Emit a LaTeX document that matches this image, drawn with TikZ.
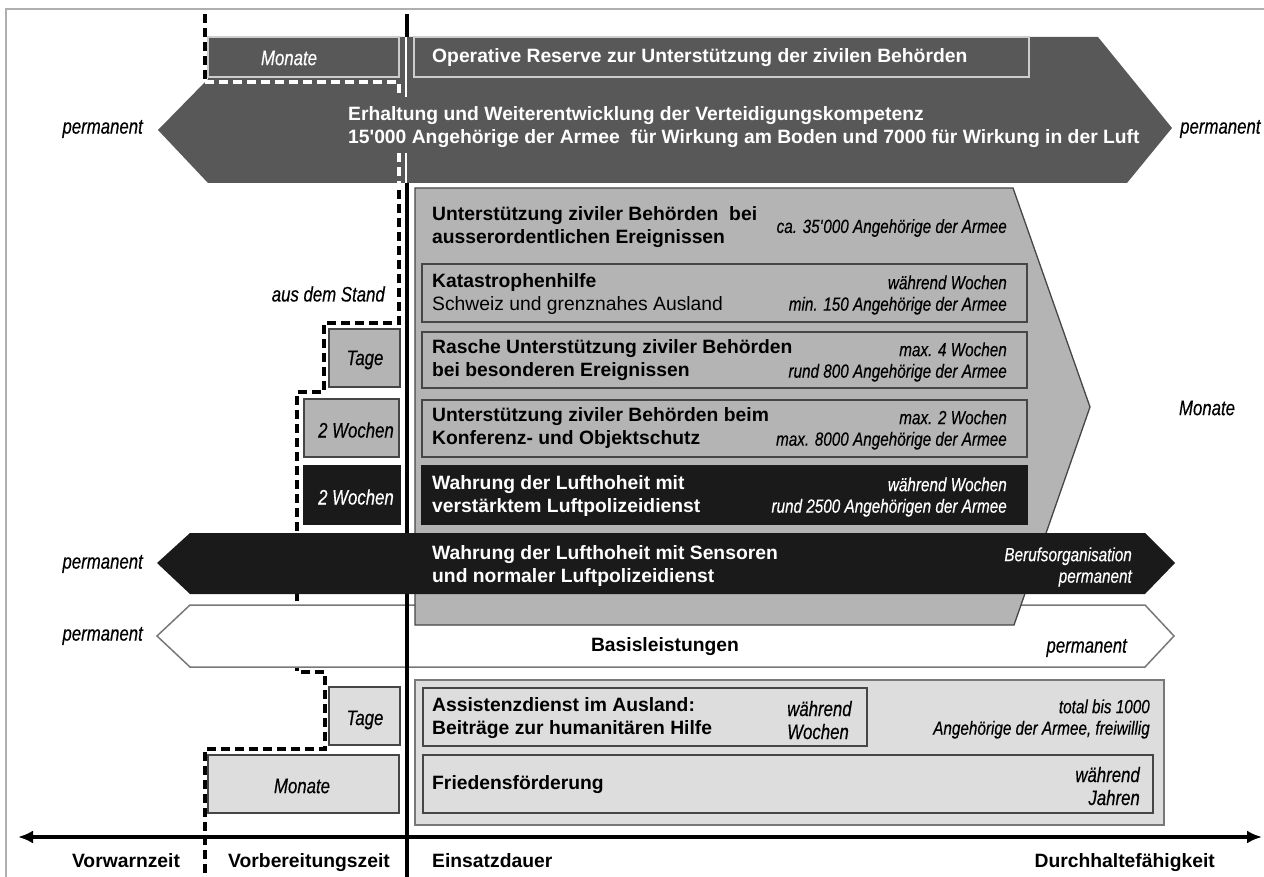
\documentclass[tikz,border=0pt]{standalone}
\usepackage{fontspec}
\setmainfont{Liberation Sans}
\newfontfamily\narrowfont{Liberation Sans}[FakeStretch=0.8, FakeBold=0.35]
\usetikzlibrary{arrows.meta}
\definecolor{darkarrow}{RGB}{88,88,88}
\definecolor{midgrey}{RGB}{180,180,180}
\definecolor{lightgrey}{RGB}{221,221,221}
\definecolor{nearblack}{RGB}{26,26,26}
\definecolor{edgegrey}{RGB}{70,70,70}
\definecolor{softedge}{RGB}{120,120,120}
\definecolor{framegrey}{RGB}{175,175,175}
\definecolor{paleedge}{RGB}{205,205,205}

\begin{document}
\begin{tikzpicture}[x=1pt, y=-1pt,
  txt/.style={inner sep=0pt, font=\fontsize{19.3}{23.5}\selectfont},
  boldtxt/.style={inner sep=0pt, font=\fontsize{19.3}{23.5}\selectfont\bfseries},
  infotxt/.style={inner sep=0pt, font=\narrowfont\itshape\fontsize{19.1}{21.5}\selectfont},
  labeltxt/.style={inner sep=0pt, font=\narrowfont\itshape\fontsize{21}{23}\selectfont},
  greybox/.style={fill=midgrey, draw=edgegrey, line width=1.5pt},
  lightbox/.style={fill=lightgrey, draw=edgegrey, line width=1.5pt},
  blackbox/.style={fill=nearblack, draw=nearblack, line width=1.5pt},
  topbox/.style={fill=darkarrow, draw=paleedge, line width=1.8pt},
  mainline/.style={line width=3.2pt},
  prepline/.style={line width=3.4pt, dash pattern=on 9pt off 5pt},
  axistip/.style={line width=3.6pt, {Latex[length=15pt,width=13pt]}-{Latex[length=15pt,width=13pt]}},
]
\useasboundingbox (0,0) rectangle (1264,877);

% frame
\draw[framegrey, line width=1.3pt] (6,877) -- (6,9) -- (1264,9);

% defence competence arrow
\fill[darkarrow] (208,37) -- (1098,37) -- (1172,128) -- (1127,183) -- (208,183)
  -- (158,130) -- (208,79) -- cycle;
\draw[topbox] (208,37) rectangle (399,77);
\draw[topbox] (414,37) rectangle (1029,77);
\draw[prepline] (205,14) -- (205,80);
\draw[prepline, white] (205,82) -- (399,82) -- (399,97);
\draw[prepline, white] (399,153) -- (399,183);
\draw[white, line width=2.4pt] (406,37) -- (406,97) (406,153) -- (406,183);
\draw[mainline] (407,14) -- (407,37);

% preparation time
\draw[prepline] (399,190) -- (399,323) -- (324,323) -- (324,392) -- (297,392)
  -- (297,672) -- (325,672) -- (325,749) -- (205,749) -- (205,877);

% basic services arrow
\draw[fill=white, draw=softedge, line width=1.5pt] (190,605) -- (1145,605) -- (1174,636)
  -- (1145,667) -- (190,667) -- (157,636) -- cycle;
\draw[mainline] (407,183) -- (407,877);

% support arrow
\draw[greybox, line width=1.3pt] (415,188) -- (1013,188) -- (1090,407) -- (1014,625)
  -- (415,625) -- cycle;
\draw[greybox] (422,264) rectangle (1027,322);
\draw[greybox] (422,332) rectangle (1027,388);
\draw[greybox] (422,400) rectangle (1027,457);
\draw[blackbox] (422,466) rectangle (1027,524);

% air sovereignty arrow
\fill[nearblack] (190,533) -- (1145,533) -- (1175,563) -- (1145,594) -- (190,594)
  -- (157,563) -- cycle;

% readiness boxes
\draw[greybox] (329,329) rectangle (400,387);
\draw[greybox] (304,399) rectangle (399,457);
\draw[blackbox] (304,466) rectangle (400,524);
\draw[lightbox] (329,687) rectangle (400,745);
\draw[lightbox] (208,755) rectangle (399,813);

% abroad
\draw[lightbox, draw=softedge] (415,680) rectangle (1164,825);
\draw[lightbox] (423,688) rectangle (867,746);
\draw[lightbox] (423,755) rectangle (1153,813);

% time axis
\coordinate (west end) at (18,837);
\coordinate (east end) at (1262,837);
\draw[axistip] (west end) -- (east end);

% texts
\node[labeltxt, white] (mon top) at (289,58) {Monate};
\node[boldtxt, white, anchor=west] (reserve) at (432,58)
  {Operative Reserve zur Unterstützung der zivilen Behörden};
\node[boldtxt, white, anchor=west, align=left] (defence) at (348,127)
  {Erhaltung und Weiterentwicklung der Verteidigungskompetenz\\
   15\textquotesingle 000 Angehörige der Armee\ \ für Wirkung am Boden und 7000 für Wirkung in der Luft};
\node[labeltxt, anchor=east] (perm a) at (143,129) {permanent};
\node[labeltxt, anchor=west] (perm b) at (1180,129) {permanent};

\node[boldtxt, anchor=west, align=left] (extra) at (432,227)
  {Unterstützung ziviler Behörden\ \ bei\\ausserordentlichen Ereignissen};
\node[infotxt, anchor=east] (extra n) at (1007,228)
  {ca. 35\textquotesingle 000 Angehörige der Armee};
\node[txt, anchor=west, align=left] (disaster) at (432,294)
  {\textbf{Katastrophenhilfe}\\Schweiz und grenznahes Ausland};
\node[infotxt, anchor=east, align=right] (disaster n) at (1007,295)
  {während Wochen\\min. 150 Angehörige der Armee};
\node[boldtxt, anchor=west, align=left] (rapid) at (432,360)
  {Rasche Unterstützung ziviler Behörden\\bei besonderen Ereignissen};
\node[infotxt, anchor=east, align=right] (rapid n) at (1007,362)
  {max. 4 Wochen\\rund 800 Angehörige der Armee};
\node[boldtxt, anchor=west, align=left] (wef) at (432,428)
  {Unterstützung ziviler Behörden beim\\Konferenz- und Objektschutz};
\node[infotxt, anchor=east, align=right] (wef n) at (1007,430)
  {max. 2 Wochen\\max. 8000 Angehörige der Armee};
\node[boldtxt, white, anchor=west, align=left] (airpol) at (432,496)
  {Wahrung der Lufthoheit mit\\verstärktem Luftpolizeidienst};
\node[infotxt, white, anchor=east, align=right] (airpol n) at (1007,497)
  {während Wochen\\rund 2500 Angehörigen der Armee};
\node[labeltxt] (mon right) at (1207,408) {Monate};

\node[labeltxt, anchor=east] (stand) at (385,294) {aus dem Stand};
\node[labeltxt] (days a) at (365,360) {Tage};
\node[labeltxt] (weeks a) at (356,430) {2 Wochen};
\node[labeltxt, white] (weeks b) at (356,497) {2 Wochen};

\node[boldtxt, white, anchor=west, align=left] (sensors) at (432,566)
  {Wahrung der Lufthoheit mit Sensoren\\und normaler Luftpolizeidienst};
\node[infotxt, white, anchor=east, align=right] (sensors n) at (1132,567)
  {Berufsorganisation\\permanent};
\node[labeltxt, anchor=east] (perm c) at (143,564) {permanent};
\node[labeltxt, anchor=east] (perm d) at (143,636) {permanent};
\node[boldtxt] (basic) at (665,647) {Basisleistungen};
\node[labeltxt, anchor=east] (perm e) at (1127,648) {permanent};

\node[boldtxt, anchor=west, align=left] (assist) at (432,718)
  {Assistenzdienst im Ausland:\\Beiträge zur humanitären Hilfe};
\node[labeltxt, anchor=west, align=left] (assist d) at (787,720) {während\\Wochen};
\node[infotxt, anchor=east, align=right] (assist n) at (1150,719)
  {total bis 1000\\Angehörige der Armee, freiwillig};
\node[boldtxt, anchor=west] (peace) at (432,785) {Friedensförderung};
\node[labeltxt, anchor=east, align=right] (peace d) at (1140,786) {während\\Jahren};
\node[labeltxt] (days b) at (365,720) {Tage};
\node[labeltxt] (mon low) at (302,786) {Monate};

\node[boldtxt, anchor=base] (warn) at (126,867) {Vorwarnzeit};
\node[boldtxt, anchor=base] (prep) at (309,867) {Vorbereitungszeit};
\node[boldtxt, anchor=base west] (dur) at (432,867) {Einsatzdauer};
\node[boldtxt, anchor=base east] (endur) at (1215,867) {Durchhaltefähigkeit};
\end{tikzpicture}
\end{document}
